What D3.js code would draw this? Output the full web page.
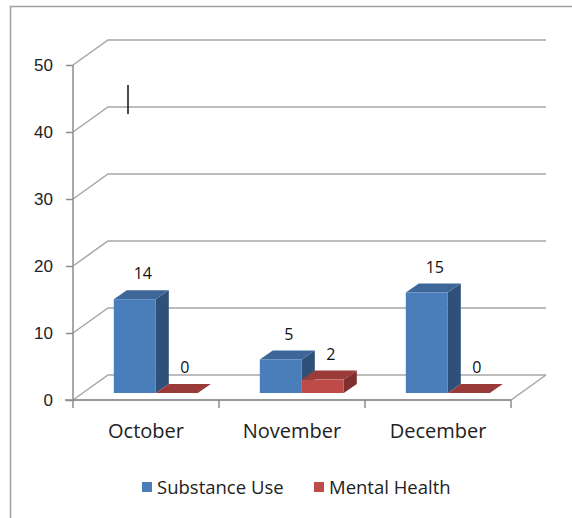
<!DOCTYPE html>
<html>
<head>
<meta charset="utf-8">
<script src="https://cdn.jsdelivr.net/npm/d3@7"></script>
<style>
  body { margin: 0; background: #fff; }
  svg { font-family: "Open Sans", Lato, sans-serif; }
</style>
</head>
<body>
<div id="chart"></div>
<script>
// data
const months = ["October", "November", "December"];
const seriesNames = ["Substance Use", "Mental Health"];
const substanceUse = [14, 5, 15];
const mentalHealth = [0, 2, 0];
const yTicks = [0, 10, 20, 30, 40, 50];

const width = 572, height = 518;
const colors = {
  "Substance Use": { front: "#4a7ebb", top: "#3d6699", side: "#2f5079" },
  "Mental Health": { front: "#be4b48", top: "#9a3b39", side: "#7f302e" }
};

const rows = [];
months.forEach((m, i) => {
  rows.push({ month: m, series: "Substance Use", value: substanceUse[i] });
  rows.push({ month: m, series: "Mental Health", value: mentalHealth[i] });
});

// oblique depth of the whole plot box and of each bar
const wallDx = 35, wallDy = -25;
const barPos = 0.28;           // bars sit this far back into the box
const barDx = 13, barDy = -9;   // bar thickness

const svg = d3.select("#chart").append("svg")
  .attr("width", width).attr("height", height);

// frame like the excel chart area
svg.append("path")
  .attr("d", `M10.5,${height} L10.5,6.5 L${width},6.5`)
  .attr("fill", "none").attr("stroke", "#a0a0a0").attr("stroke-width", 1.5);

const y = d3.scaleLinear().domain([0, 50]).range([400, 65]);
const x = d3.scaleBand().domain(months).range([73, 511]);
const xs = d3.scaleBand().domain(seriesNames).range([0, 84]);

const right = x.range()[1];

// back wall gridlines
const grid = svg.append("g");
grid.selectAll("path")
  .data(yTicks)
  .join("path")
  .attr("d", v => `M73,${y(v)} L${73 + wallDx},${y(v) + wallDy} L${right + wallDx},${y(v) + wallDy}`)
  .attr("fill", "none").attr("stroke", "#a6a6a6").attr("stroke-width", 1.5);

// floor front/right edges
grid.append("path")
  .attr("d", `M${right + wallDx},${y(0) + wallDy} L${right},${y(0)} L73,${y(0)}`)
  .attr("fill", "none").attr("stroke", "#a6a6a6").attr("stroke-width", 1.5);

// y axis
const yAxis = svg.append("g")
  .attr("transform", "translate(73,0)")
  .call(d3.axisLeft(y).tickValues(yTicks).tickSize(7).tickPadding(13));
yAxis.select(".domain").attr("stroke", "#8c8c8c").attr("stroke-width", 1.5)
  .attr("d", `M0,${y(50)}V${y(0)}`);
yAxis.selectAll(".tick line").attr("stroke", "#8c8c8c").attr("stroke-width", 1.5);
yAxis.selectAll(".tick text").attr("font-size", 17).attr("fill", "#222");

// x axis (category ticks hang down below the floor)
const xAxis = svg.append("g")
  .attr("transform", `translate(0,${y(0)})`);
xAxis.append("line")
  .attr("x1", 65).attr("x2", right).attr("y1", 0).attr("y2", 0)
  .attr("stroke", "#8c8c8c").attr("stroke-width", 1.5);
xAxis.selectAll("line.tk")
  .data(months.map(m => x(m)).concat([right]))
  .join("line").attr("class", "tk")
  .attr("x1", d => d).attr("x2", d => d).attr("y1", 0).attr("y2", 8)
  .attr("stroke", "#8c8c8c").attr("stroke-width", 1.5);
xAxis.selectAll("text")
  .data(months)
  .join("text")
  .attr("x", d => x(d) + x.bandwidth() / 2)
  .attr("y", 38)
  .attr("text-anchor", "middle")
  .attr("font-size", 20).attr("fill", "#222")
  .text(d => d);

// bars
const offX = wallDx * barPos, offY = wallDy * barPos;
const bars = svg.append("g").selectAll("g")
  .data(rows)
  .join("g");

bars.each(function (d) {
  const g = d3.select(this);
  const x0 = x(d.month) + (x.bandwidth() - xs.range()[1]) / 2 + xs(d.series) + offX;
  const x1 = x0 + xs.bandwidth();
  const yb = y(0) + offY, yt = y(d.value) + offY;
  const c = colors[d.series];
  // side
  g.append("path")
    .attr("d", `M${x1},${yb} L${x1 + barDx},${yb + barDy} L${x1 + barDx},${yt + barDy} L${x1},${yt} Z`)
    .attr("fill", c.side);
  // top
  g.append("path")
    .attr("d", `M${x0},${yt} L${x0 + barDx},${yt + barDy} L${x1 + barDx},${yt + barDy} L${x1},${yt} Z`)
    .attr("fill", c.top);
  // front
  g.append("rect")
    .attr("x", x0).attr("y", yt)
    .attr("width", xs.bandwidth()).attr("height", yb - yt)
    .attr("fill", c.front);
  // value label
  g.append("text")
    .attr("x", (x0 + x1) / 2 + 8)
    .attr("y", yt + barDy - 11)
    .attr("text-anchor", "middle")
    .attr("font-size", 16).attr("fill", "#111")
    .text(d.value);
});

// stray cursor mark visible in the original screenshot
svg.append("line")
  .attr("x1", 128).attr("x2", 128).attr("y1", 85).attr("y2", 114)
  .attr("stroke", "#111").attr("stroke-width", 1.5);

// legend
const legend = svg.append("g").attr("transform", "translate(142,487)");
const legendX = [0, 172];
seriesNames.forEach((s, i) => {
  const lg = legend.append("g").attr("transform", `translate(${legendX[i]},0)`);
  lg.append("rect").attr("x", 0).attr("y", -5).attr("width", 10).attr("height", 10)
    .attr("fill", colors[s].front);
  lg.append("text").attr("x", 15).attr("y", 6.5)
    .attr("font-size", 18.5).attr("fill", "#222").text(s);
});
</script>
</body>
</html>
